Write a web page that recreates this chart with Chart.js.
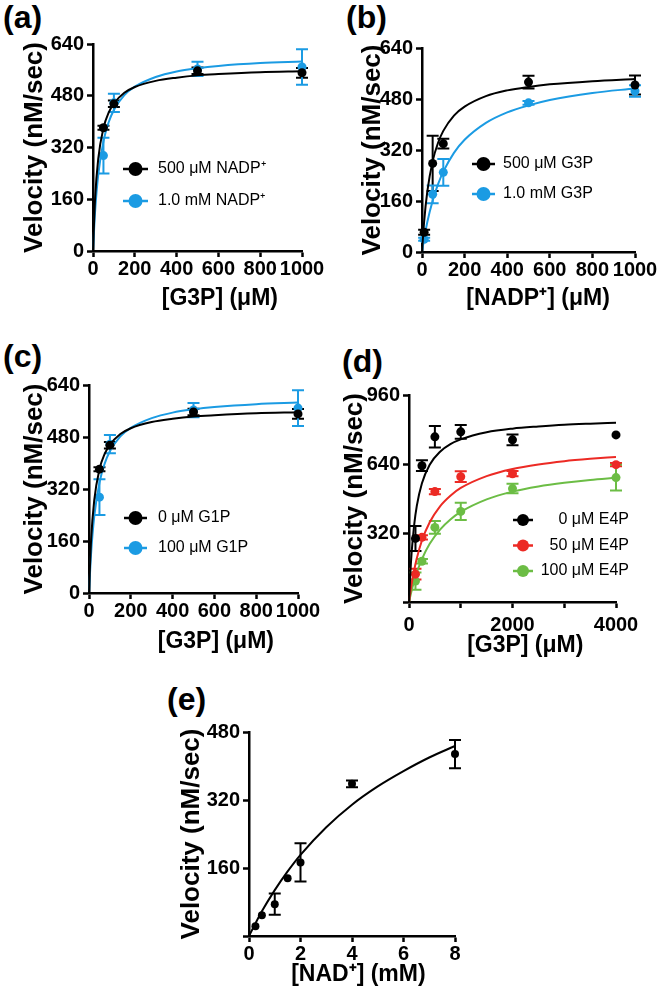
<!DOCTYPE html>
<html>
<head>
<meta charset="utf-8">
<script src="https://cdn.jsdelivr.net/npm/chart.js@4/dist/chart.umd.min.js"></script>
<style>
  body { margin: 0; background: #fff; width: 665px; height: 990px; position: relative; overflow: hidden;
         font-family: "Liberation Sans", Arial, sans-serif; }
  canvas { position: absolute; }
  .tag { position: absolute; font-weight: bold; font-size: 32px; line-height: 32px; }
</style>
</head>
<body>
<div class="tag" style="left:3px;top:1px">(a)</div>
<div class="tag" style="left:346px;top:1px">(b)</div>
<div class="tag" style="left:3px;top:340px">(c)</div>
<div class="tag" style="left:342px;top:345px">(d)</div>
<div class="tag" style="left:167px;top:683px">(e)</div>
<script>
// --------------------- Data ---------------------
// (a) velocity vs [G3P] at two NADP+ levels
const aX = [50, 100, 500, 1000];
const a500 = [381, 455, 557, 551];
const a500Err = [6, 10, 10, 15];
const a1000 = [295, 458, 563, 569];
const a1000Err = [55, 28, 22, 55];
const aFitX = [0, 10, 25, 50, 75, 100, 150, 200, 300, 400, 500, 600, 800, 1000];
const a500Fit = [0, 163, 285, 380, 428, 456, 489, 507, 526, 536, 543, 547, 553, 556];
const a1000Fit = [0, 122, 235, 339, 398, 436, 482, 508, 538, 555, 565, 572, 581, 586];

// (b) velocity vs [NADP+] at two G3P levels
const bX = [10, 50, 100, 500, 1000];
const b500 = [62, 278, 340, 533, 524];
const b500Err = [8, 87, 15, 20, 30];
const b1000 = [40, 181, 250, 468, 505];
const b1000Err = [5, 28, 42, 6, 18];
const bFitX = [0, 10, 25, 50, 75, 100, 150, 200, 300, 400, 500, 600, 800, 1000];
const b500Fit = [0, 95, 190, 285, 342, 380, 428, 456, 489, 507, 518, 526, 536, 543];
const b1000Fit = [0, 41, 94, 161, 212, 252, 311, 352, 405, 438, 460, 477, 499, 513];

// (c) velocity vs [G3P] with / without G1P
const cX = [50, 100, 500, 1000];
const c0 = [381, 455, 557, 551];
const c0Err = [6, 10, 10, 15];
const c100 = [295, 458, 563, 569];
const c100Err = [55, 28, 22, 55];
const cFitX = [0, 10, 25, 50, 75, 100, 150, 200, 300, 400, 500, 600, 800, 1000];
const c0Fit = [0, 163, 285, 380, 428, 456, 489, 507, 526, 536, 543, 547, 553, 556];
const c100Fit = [0, 122, 235, 339, 398, 436, 482, 508, 538, 555, 565, 572, 581, 586];

// (d) velocity vs [G3P] at three E4P levels
const dX = [125, 250, 500, 1000, 2000, 4000];
const d0 = [295, 632, 766, 789, 752, 775];
const d0Err = [58, 25, 50, 32, 25, 0];
const d50 = [129, 300, 512, 581, 595, 637];
const d50Err = [25, 10, 12, 25, 12, 8];
const d100 = [97, 189, 346, 420, 526, 577];
const d100Err = [40, 10, 30, 40, 22, 60];
const dFitX = [0, 25, 50, 100, 150, 250, 400, 600, 800, 1000, 1500, 2000, 2500, 3000, 3500, 4000];
const d0Fit = [0, 130, 227, 358, 445, 551, 637, 697, 732, 754, 787, 804, 814, 822, 827, 831];
const d50Fit = [0, 44, 82, 148, 202, 285, 370, 444, 493, 529, 584, 617, 638, 653, 664, 673];
const d100Fit = [0, 27, 52, 97, 136, 199, 270, 336, 383, 418, 476, 512, 536, 553, 566, 576];

// (e) velocity vs [NAD+]
const eX = [0.25, 0.5, 1, 1.5, 2, 4, 8];
const eV = [23, 49, 75, 136, 173, 358, 428];
const eErr = [0, 0, 25, 0, 45, 8, 33];
const eFitX = [0, 0.5, 1, 1.5, 2, 3, 4, 5, 6, 7, 8];
const eFit = [0, 58, 108, 152, 191, 256, 309, 352, 388, 420, 447];

const BLACK = '#000000', BLUE = '#1b9be3', RED = '#ec2a24', GREEN = '#6cbd45';

// --------------------- Plugins ---------------------
const errorBars = {
  id: 'errorBars',
  beforeDatasetsDraw(chart, args, opts) {
    const { ctx, scales: { x, y } } = chart;
    chart.data.datasets.forEach(ds => {
      if (!ds.errors) return;
      ctx.save();
      ctx.strokeStyle = ds.backgroundColor;
      ctx.lineWidth = 2;
      ds.data.forEach((p, i) => {
        const e = ds.errors[i];
        if (!e) return;
        const px = x.getPixelForValue(p.x);
        const top = y.getPixelForValue(p.y + e);
        const bot = y.getPixelForValue(p.y - e);
        const w = opts.cap;
        ctx.beginPath();
        ctx.moveTo(px, top); ctx.lineTo(px, bot);
        ctx.moveTo(px - w, top); ctx.lineTo(px + w, top);
        ctx.moveTo(px - w, bot); ctx.lineTo(px + w, bot);
        ctx.stroke();
      });
      ctx.restore();
    });
  }
};

const insideLegend = {
  id: 'insideLegend',
  afterDraw(chart, args, opts) {
    const { ctx, chartArea } = chart;
    opts.items.forEach((it, i) => {
      const x = chartArea.left + opts.left;
      const y = chartArea.top + opts.top + i * opts.gap;
      ctx.save();
      ctx.strokeStyle = it.color;
      ctx.fillStyle = it.color;
      ctx.lineWidth = 2.5;
      ctx.beginPath();
      ctx.moveTo(x, y); ctx.lineTo(x + opts.lineLen, y);
      ctx.stroke();
      ctx.beginPath();
      ctx.arc(x + opts.lineLen / 2, y, opts.r, 0, Math.PI * 2);
      ctx.fill();
      ctx.fillStyle = '#000';
      ctx.font = '16px "Liberation Sans", Arial, sans-serif';
      ctx.textBaseline = 'middle';
      if (opts.textRight) {
        ctx.textAlign = 'right';
        ctx.fillText(it.text, chartArea.left + opts.textRight, y);
      } else {
        ctx.textAlign = 'left';
        ctx.fillText(it.text, x + opts.lineLen + opts.textGap, y);
      }
      ctx.restore();
    });
  }
};

// --------------------- Panels ---------------------
const hideZero = v => (v === 0 ? '' : String(v));
const plain = v => String(v);

const panels = [
  { plot: [93, 43, 302, 251], wy: 74, hx: 61, xMax: 1000, xStep: 200, yMax: 640, yStep: 160, r: 4.5,
    xTitle: '       [G3P] (μM)',
    legend: { left: 30, top: 125, gap: 32, lineLen: 25, r: 7, textGap: 10,
              items: [{ text: '500 μM NADP⁺', color: BLACK }, { text: '1.0 mM NADP⁺', color: BLUE }] },
    series: [
      { x: aX, y: a500, err: a500Err, fitX: aFitX, fit: a500Fit, color: BLACK },
      { x: aX, y: a1000, err: a1000Err, fitX: aFitX, fit: a1000Fit, color: BLUE }
    ] },
  { plot: [422, 47, 635, 252], wy: 65, hx: 60, xMax: 1000, xStep: 200, yMax: 640, yStep: 160, r: 4.5,
    xTitle: '   [NADP⁺] (μM)',
    legend: { left: 50, top: 116, gap: 30, lineLen: 23, r: 7, textGap: 8,
              items: [{ text: '500 μM G3P', color: BLACK }, { text: '1.0 mM G3P', color: BLUE }] },
    series: [
      { x: bX, y: b500, err: b500Err, fitX: bFitX, fit: b500Fit, color: BLACK },
      { x: bX, y: b1000, err: b1000Err, fitX: bFitX, fit: b1000Fit, color: BLUE }
    ] },
  { plot: [89, 384, 298, 593], wy: 70, hx: 62, xMax: 1000, xStep: 200, yMax: 640, yStep: 160, r: 4.5,
    xTitle: '       [G3P] (μM)',
    legend: { left: 35, top: 133, gap: 30, lineLen: 23, r: 7, textGap: 11,
              items: [{ text: '0 μM G1P', color: BLACK }, { text: '100 μM G1P', color: BLUE }] },
    series: [
      { x: cX, y: c0, err: c0Err, fitX: cFitX, fit: c0Fit, color: BLACK },
      { x: cX, y: c100, err: c100Err, fitX: cFitX, fit: c100Fit, color: BLUE }
    ] },
  { plot: [409, 394, 616, 602], wy: 70, hx: 57, xMax: 4000, xStep: 1000, yMax: 960, yStep: 320, r: 4.5,
    xPad: 5, yLabel: hideZero, xLabel: v => (v % 2000 === 0 ? String(v) : ''),
    xTitle: '    [G3P] (μM)',
    legend: { left: 104, top: 125, gap: 25.5, lineLen: 20, r: 6, textRight: 220,
              items: [{ text: '0 μM E4P', color: BLACK }, { text: '50 μM E4P', color: RED }, { text: '100 μM E4P', color: GREEN }] },
    series: [
      { x: dX, y: d0, err: d0Err, fitX: dFitX, fit: d0Fit, color: BLACK },
      { x: dX, y: d50, err: d50Err, fitX: dFitX, fit: d50Fit, color: RED },
      { x: dX, y: d100, err: d100Err, fitX: dFitX, fit: d100Fit, color: GREEN }
    ] },
  { plot: [249, 731, 455, 936], wy: 73, hx: 52, xMax: 8, xStep: 2, yMax: 480, yStep: 160, r: 4,
    yLabel: hideZero,
    xTitle: '  [NAD⁺] (mM)',
    legend: { items: [] },
    series: [
      { x: eX, y: eV, err: eErr, fitX: eFitX, fit: eFit, color: BLACK }
    ] }
];

function makePanel(p) {
  const [l, t, r, b] = p.plot;
  const padTop = 14, padRight = 34;
  const cv = document.createElement('canvas');
  cv.width = p.wy + (r - l) + padRight;
  cv.height = padTop + (b - t) + p.hx;
  cv.style.left = (l - p.wy) + 'px';
  cv.style.top = (t - padTop) + 'px';
  document.body.appendChild(cv);

  const datasets = [];
  p.series.forEach(s => {
    datasets.push({
      data: s.fitX.map((x, i) => ({ x, y: s.fit[i] })),
      showLine: true, borderColor: s.color, borderWidth: 2, pointRadius: 0,
      cubicInterpolationMode: 'monotone', clip: false
    });
    datasets.push({
      data: s.x.map((x, i) => ({ x, y: s.y[i] })),
      errors: s.err, showLine: false, pointRadius: p.r,
      backgroundColor: s.color, borderColor: s.color, borderWidth: 0, clip: false
    });
  });

  const axisBase = {
    grid: { drawOnChartArea: false, tickLength: 6, tickWidth: 2.5, tickColor: '#000' },
    border: { width: 2.5, color: '#000' }
  };

  new Chart(cv, {
    type: 'scatter',
    data: { datasets },
    options: {
      responsive: false, animation: false, devicePixelRatio: 1,
      layout: { padding: { top: padTop, right: padRight, left: 0, bottom: 0 } },
      plugins: {
        legend: { display: false }, tooltip: { enabled: false },
        insideLegend: p.legend, errorBars: { cap: 6 }
      },
      scales: {
        x: Object.assign({}, axisBase, {
          type: 'linear', min: 0, max: p.xMax,
          ticks: { stepSize: p.xStep, padding: p.xPad || 0, autoSkip: false, maxRotation: 0,
                   font: { size: 20, weight: 'bold' }, color: '#000', callback: p.xLabel || plain },
          title: { display: true, text: p.xTitle, font: { size: 23, weight: 'bold' }, padding: 0, color: '#000' },
          afterFit: sc => { sc.height = p.hx; }
        }),
        y: Object.assign({}, axisBase, {
          type: 'linear', min: 0, max: p.yMax,
          ticks: { stepSize: p.yStep, padding: 3, font: { size: 20, weight: 'bold' }, color: '#000',
                   callback: p.yLabel || plain },
          title: { display: true, text: 'Velocity (nM/sec)', font: { size: 26, weight: 'bold' }, padding: 0, color: '#000' },
          afterFit: sc => { sc.width = p.wy; }
        })
      }
    },
    plugins: [errorBars, insideLegend]
  });
}

panels.forEach(makePanel);
</script>
</body>
</html>
